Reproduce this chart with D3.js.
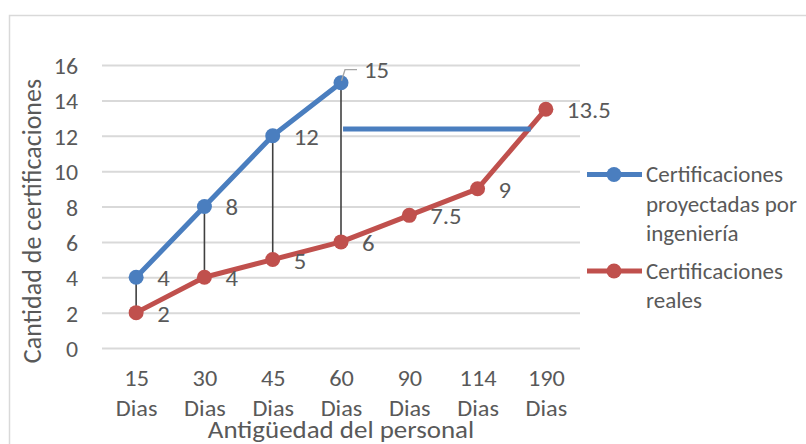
<!DOCTYPE html>
<html>
<head>
<meta charset="utf-8">
<script src="https://cdn.jsdelivr.net/npm/d3@7"></script>
<style>
  html, body { margin: 0; padding: 0; background: #fff; }
  svg text { font-family: Carlito, Calibri, Lato, "Open Sans", sans-serif; fill: #595959; }
</style>
</head>
<body>
<svg id="chart" width="806" height="444"></svg>
<script>
// Categories (staff seniority) and the two series
const categories = ["15 Dias", "30 Dias", "45 Dias", "60 Dias", "90 Dias", "114 Dias", "190 Dias"];
const projected = [4, 8, 12, 15];                  // Certificaciones proyectadas por ingeniería
const actual = [2, 4, 5, 6, 7.5, 9, 13.5];         // Certificaciones reales
const yTicks = [0, 2, 4, 6, 8, 10, 12, 14, 16];
// Free-standing blue bar drawn over the plot: [start index, end index, value]
const bar = [3.03, 5.78, 12.38];

const blue = "#4a7ebf";
const red = "#c0504d";
const grid = "#d9d9d9";

const svg = d3.select("#chart");

// widen glyphs horizontally around each text's own anchor x
function widen(sel, sx) {
  sel.each(function () {
    const ax = +(this.getAttribute("x") || 0);
    this.setAttribute("transform", `translate(${ax},0) scale(${sx},1) translate(${-ax},0)`);
  });
}

// outer chart frame
svg.append("rect")
  .attr("x", 9.5).attr("y", 15.5)
  .attr("width", 820).attr("height", 460)
  .attr("fill", "none").attr("stroke", "#d9d9d9").attr("stroke-width", 1.5);

const plot = { left: 102, right: 580, top: 65, bottom: 348 };

const x = d3.scalePoint().domain(categories).range([plot.left, plot.right]).padding(0.5);
const xi = d3.scaleLinear().domain([0, categories.length - 1])
  .range([x(categories[0]), x(categories[categories.length - 1])]);
const y = d3.scaleLinear().domain([0, 16]).range([plot.bottom, plot.top]);

// horizontal gridlines + y tick labels via an axis
const yAxis = svg.append("g")
  .attr("transform", `translate(${plot.left},0)`)
  .call(d3.axisLeft(y).tickValues(yTicks).tickSize(-(plot.right - plot.left)).tickPadding(24));
yAxis.select(".domain").remove();
yAxis.selectAll(".tick line").attr("stroke", grid).attr("stroke-width", 2);
yAxis.selectAll(".tick text").attr("font-size", 22.5).attr("dy", "0.38em").style("fill", "#595959")
  .call(widen, 1.06);

// x tick labels on two lines
const xAxis = svg.append("g")
  .attr("transform", `translate(0,${plot.bottom})`)
  .call(d3.axisBottom(x).tickSize(0).tickFormat(""));
xAxis.select(".domain").remove();
xAxis.selectAll(".tick").each(function (d) {
  const parts = d.split(" ");
  const t = d3.select(this).append("text")
    .attr("x", 0)
    .attr("text-anchor", "middle").attr("font-size", 22.5);
  t.append("tspan").attr("x", 0).attr("y", 38).text(parts[0]);
  t.append("tspan").attr("x", 0).attr("y", 68).text(parts[1]);
  widen(t, 1.08);
});

// axis titles
svg.append("text")
  .attr("transform", "translate(41,221) rotate(-90)")
  .attr("text-anchor", "middle").attr("font-size", 26)
  .text("Cantidad de certificaciones");
svg.append("text")
  .attr("x", 341).attr("y", 438)
  .attr("text-anchor", "middle").attr("font-size", 24.5)
  .text("Antigüedad del personal")
  .call(widen, 1.1);

// drop lines between the two series
svg.append("g").selectAll("line")
  .data(projected)
  .join("line")
  .attr("x1", (d, i) => x(categories[i])).attr("x2", (d, i) => x(categories[i]))
  .attr("y1", d => y(d)).attr("y2", (d, i) => y(actual[i]))
  .attr("stroke", "#404040").attr("stroke-width", 1.6);

const line = d3.line().x((d, i) => x(categories[i])).y(d => y(d));

function drawSeries(values, color) {
  const g = svg.append("g");
  g.append("path").datum(values)
    .attr("d", line).attr("fill", "none")
    .attr("stroke", color).attr("stroke-width", 5).attr("stroke-linejoin", "round");
  g.selectAll("circle").data(values).join("circle")
    .attr("cx", (d, i) => x(categories[i])).attr("cy", d => y(d))
    .attr("r", 7.5).attr("fill", color);
  return g;
}

drawSeries(actual, red);
drawSeries(projected, blue);

// blue horizontal bar
svg.append("line")
  .attr("x1", xi(bar[0])).attr("x2", xi(bar[1]))
  .attr("y1", y(bar[2])).attr("y2", y(bar[2]))
  .attr("stroke", blue).attr("stroke-width", 5);

// data labels
const fmt = d => String(d);
function labels(values, skipLast) {
  svg.append("g").selectAll("text")
    .data(values.map((v, i) => ({ v, i })).filter(d => !(skipLast && d.i === values.length - 1)))
    .join("text")
    .attr("x", d => x(categories[d.i]) + 21)
    .attr("y", d => y(d.v) + 9)
    .attr("font-size", 22.5)
    .text(d => fmt(d.v))
    .call(widen, 1.1);
}
labels(actual, false);
labels(projected, true);

// last projected label moved up with a leader line
const lastI = projected.length - 1;
const px = x(categories[lastI]), py = y(projected[lastI]);
svg.append("path")
  .attr("d", `M${px + 0.5},${py - 2} L${px + 4},${py - 13} L${px + 16},${py - 13}`)
  .attr("fill", "none").attr("stroke", "#a6a6a6").attr("stroke-width", 1.3);
svg.append("text")
  .attr("x", px + 23).attr("y", py - 5)
  .attr("font-size", 22.5)
  .text(fmt(projected[lastI]))
  .call(widen, 1.1);

// legend
const legend = [
  { color: blue, lines: ["Certificaciones", "proyectadas por", "ingeniería"], y: 174.5 },
  { color: red, lines: ["Certificaciones", "reales"], y: 271 }
];
const lg = svg.append("g");
legend.forEach(item => {
  lg.append("line")
    .attr("x1", 587).attr("x2", 642).attr("y1", item.y).attr("y2", item.y)
    .attr("stroke", item.color).attr("stroke-width", 5);
  lg.append("circle").attr("cx", 614).attr("cy", item.y).attr("r", 7.5).attr("fill", item.color);
  const t = lg.append("text").attr("font-size", 23);
  item.lines.forEach((s, k) => {
    t.append("tspan").attr("x", 646).attr("y", item.y + 7.5 + k * 29.5).text(s);
  });
});
</script>
</body>
</html>
